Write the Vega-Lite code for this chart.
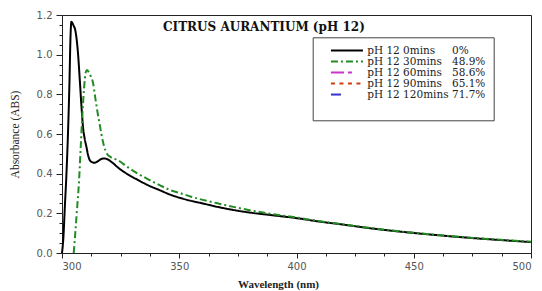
{
  "$schema": "https://vega.github.io/schema/vega-lite/v6.json",
  "width": 469,
  "height": 238,
  "autosize": {"type": "none"},
  "padding": {"left": 62, "top": 15, "right": 11, "bottom": 38},
  "background": "white",
  "title": {"text": "CITRUS AURANTIUM (pH 12)", "anchor": "start", "frame": "group", "offset": 0, "dx": 101, "dy": 33, "baseline": "alphabetic", "font": "DejaVu Serif", "fontSize": 12, "fontWeight": "bold", "color": "#111"},
  "config": {
    "view": {"stroke": "#222", "strokeWidth": 1},
    "axis": {"grid": false, "domainColor": "#222", "tickColor": "#222", "labelFont": "DejaVu Sans", "labelFontSize": 10, "labelColor": "#555", "titleFont": "Liberation Serif", "titleColor": "#222"}
  },
  "datasets": {
    "spectra": [
      {"series": "pH 12 0mins\u00a0\u00a0\u00a0\u00a0\u00a00%", "wavelength": 300.0, "absorbance": 0.0},
      {"series": "pH 12 0mins\u00a0\u00a0\u00a0\u00a0\u00a00%", "wavelength": 300.6, "absorbance": 0.08},
      {"series": "pH 12 0mins\u00a0\u00a0\u00a0\u00a0\u00a00%", "wavelength": 301.2, "absorbance": 0.23},
      {"series": "pH 12 0mins\u00a0\u00a0\u00a0\u00a0\u00a00%", "wavelength": 301.9, "absorbance": 0.40},
      {"series": "pH 12 0mins\u00a0\u00a0\u00a0\u00a0\u00a00%", "wavelength": 302.6, "absorbance": 0.62},
      {"series": "pH 12 0mins\u00a0\u00a0\u00a0\u00a0\u00a00%", "wavelength": 303.2, "absorbance": 0.87},
      {"series": "pH 12 0mins\u00a0\u00a0\u00a0\u00a0\u00a00%", "wavelength": 303.6, "absorbance": 1.08},
      {"series": "pH 12 0mins\u00a0\u00a0\u00a0\u00a0\u00a00%", "wavelength": 304.0, "absorbance": 1.166},
      {"series": "pH 12 0mins\u00a0\u00a0\u00a0\u00a0\u00a00%", "wavelength": 304.8, "absorbance": 1.15},
      {"series": "pH 12 0mins\u00a0\u00a0\u00a0\u00a0\u00a00%", "wavelength": 305.8, "absorbance": 1.115},
      {"series": "pH 12 0mins\u00a0\u00a0\u00a0\u00a0\u00a00%", "wavelength": 306.8, "absorbance": 1.01},
      {"series": "pH 12 0mins\u00a0\u00a0\u00a0\u00a0\u00a00%", "wavelength": 307.6, "absorbance": 0.87},
      {"series": "pH 12 0mins\u00a0\u00a0\u00a0\u00a0\u00a00%", "wavelength": 308.3, "absorbance": 0.74},
      {"series": "pH 12 0mins\u00a0\u00a0\u00a0\u00a0\u00a00%", "wavelength": 309.0, "absorbance": 0.63},
      {"series": "pH 12 0mins\u00a0\u00a0\u00a0\u00a0\u00a00%", "wavelength": 309.7, "absorbance": 0.575},
      {"series": "pH 12 0mins\u00a0\u00a0\u00a0\u00a0\u00a00%", "wavelength": 310.4, "absorbance": 0.536},
      {"series": "pH 12 0mins\u00a0\u00a0\u00a0\u00a0\u00a00%", "wavelength": 311.1, "absorbance": 0.495},
      {"series": "pH 12 0mins\u00a0\u00a0\u00a0\u00a0\u00a00%", "wavelength": 311.8, "absorbance": 0.469},
      {"series": "pH 12 0mins\u00a0\u00a0\u00a0\u00a0\u00a00%", "wavelength": 312.8, "absorbance": 0.458},
      {"series": "pH 12 0mins\u00a0\u00a0\u00a0\u00a0\u00a00%", "wavelength": 313.9, "absorbance": 0.455},
      {"series": "pH 12 0mins\u00a0\u00a0\u00a0\u00a0\u00a00%", "wavelength": 315.2, "absorbance": 0.462},
      {"series": "pH 12 0mins\u00a0\u00a0\u00a0\u00a0\u00a00%", "wavelength": 316.8, "absorbance": 0.474},
      {"series": "pH 12 0mins\u00a0\u00a0\u00a0\u00a0\u00a00%", "wavelength": 318.0, "absorbance": 0.477},
      {"series": "pH 12 0mins\u00a0\u00a0\u00a0\u00a0\u00a00%", "wavelength": 319.5, "absorbance": 0.472},
      {"series": "pH 12 0mins\u00a0\u00a0\u00a0\u00a0\u00a00%", "wavelength": 321.0, "absorbance": 0.46},
      {"series": "pH 12 0mins\u00a0\u00a0\u00a0\u00a0\u00a00%", "wavelength": 324.3, "absorbance": 0.427},
      {"series": "pH 12 0mins\u00a0\u00a0\u00a0\u00a0\u00a00%", "wavelength": 328.0, "absorbance": 0.397},
      {"series": "pH 12 0mins\u00a0\u00a0\u00a0\u00a0\u00a00%", "wavelength": 332.4, "absorbance": 0.368},
      {"series": "pH 12 0mins\u00a0\u00a0\u00a0\u00a0\u00a00%", "wavelength": 337.0, "absorbance": 0.34},
      {"series": "pH 12 0mins\u00a0\u00a0\u00a0\u00a0\u00a00%", "wavelength": 342.0, "absorbance": 0.315},
      {"series": "pH 12 0mins\u00a0\u00a0\u00a0\u00a0\u00a00%", "wavelength": 346.0, "absorbance": 0.295},
      {"series": "pH 12 0mins\u00a0\u00a0\u00a0\u00a0\u00a00%", "wavelength": 350.9, "absorbance": 0.276},
      {"series": "pH 12 0mins\u00a0\u00a0\u00a0\u00a0\u00a00%", "wavelength": 355.0, "absorbance": 0.263},
      {"series": "pH 12 0mins\u00a0\u00a0\u00a0\u00a0\u00a00%", "wavelength": 360.0, "absorbance": 0.25},
      {"series": "pH 12 0mins\u00a0\u00a0\u00a0\u00a0\u00a00%", "wavelength": 365.0, "absorbance": 0.236},
      {"series": "pH 12 0mins\u00a0\u00a0\u00a0\u00a0\u00a00%", "wavelength": 369.4, "absorbance": 0.225},
      {"series": "pH 12 0mins\u00a0\u00a0\u00a0\u00a0\u00a00%", "wavelength": 375.0, "absorbance": 0.213},
      {"series": "pH 12 0mins\u00a0\u00a0\u00a0\u00a0\u00a00%", "wavelength": 380.0, "absorbance": 0.204},
      {"series": "pH 12 0mins\u00a0\u00a0\u00a0\u00a0\u00a00%", "wavelength": 390.0, "absorbance": 0.19},
      {"series": "pH 12 0mins\u00a0\u00a0\u00a0\u00a0\u00a00%", "wavelength": 399.3, "absorbance": 0.177},
      {"series": "pH 12 0mins\u00a0\u00a0\u00a0\u00a0\u00a00%", "wavelength": 410.0, "absorbance": 0.158},
      {"series": "pH 12 0mins\u00a0\u00a0\u00a0\u00a0\u00a00%", "wavelength": 420.0, "absorbance": 0.143},
      {"series": "pH 12 0mins\u00a0\u00a0\u00a0\u00a0\u00a00%", "wavelength": 431.2, "absorbance": 0.125},
      {"series": "pH 12 0mins\u00a0\u00a0\u00a0\u00a0\u00a00%", "wavelength": 440.0, "absorbance": 0.113},
      {"series": "pH 12 0mins\u00a0\u00a0\u00a0\u00a0\u00a00%", "wavelength": 450.0, "absorbance": 0.101},
      {"series": "pH 12 0mins\u00a0\u00a0\u00a0\u00a0\u00a00%", "wavelength": 460.0, "absorbance": 0.09},
      {"series": "pH 12 0mins\u00a0\u00a0\u00a0\u00a0\u00a00%", "wavelength": 470.0, "absorbance": 0.08},
      {"series": "pH 12 0mins\u00a0\u00a0\u00a0\u00a0\u00a00%", "wavelength": 480.0, "absorbance": 0.071},
      {"series": "pH 12 0mins\u00a0\u00a0\u00a0\u00a0\u00a00%", "wavelength": 490.0, "absorbance": 0.063},
      {"series": "pH 12 0mins\u00a0\u00a0\u00a0\u00a0\u00a00%", "wavelength": 500.0, "absorbance": 0.055},
      {"series": "pH 12 30mins\u00a0\u00a0\u00a048.9%", "wavelength": 305.0, "absorbance": 0.0},
      {"series": "pH 12 30mins\u00a0\u00a0\u00a048.9%", "wavelength": 305.6, "absorbance": 0.09},
      {"series": "pH 12 30mins\u00a0\u00a0\u00a048.9%", "wavelength": 306.4, "absorbance": 0.22},
      {"series": "pH 12 30mins\u00a0\u00a0\u00a048.9%", "wavelength": 307.3, "absorbance": 0.37},
      {"series": "pH 12 30mins\u00a0\u00a0\u00a048.9%", "wavelength": 308.0, "absorbance": 0.54},
      {"series": "pH 12 30mins\u00a0\u00a0\u00a048.9%", "wavelength": 308.7, "absorbance": 0.70},
      {"series": "pH 12 30mins\u00a0\u00a0\u00a048.9%", "wavelength": 309.4, "absorbance": 0.83},
      {"series": "pH 12 30mins\u00a0\u00a0\u00a048.9%", "wavelength": 310.1, "absorbance": 0.91},
      {"series": "pH 12 30mins\u00a0\u00a0\u00a048.9%", "wavelength": 310.7, "absorbance": 0.923},
      {"series": "pH 12 30mins\u00a0\u00a0\u00a048.9%", "wavelength": 311.4, "absorbance": 0.912},
      {"series": "pH 12 30mins\u00a0\u00a0\u00a048.9%", "wavelength": 312.3, "absorbance": 0.89},
      {"series": "pH 12 30mins\u00a0\u00a0\u00a048.9%", "wavelength": 313.2, "absorbance": 0.86},
      {"series": "pH 12 30mins\u00a0\u00a0\u00a048.9%", "wavelength": 314.1, "absorbance": 0.79},
      {"series": "pH 12 30mins\u00a0\u00a0\u00a048.9%", "wavelength": 315.0, "absorbance": 0.72},
      {"series": "pH 12 30mins\u00a0\u00a0\u00a048.9%", "wavelength": 315.9, "absorbance": 0.66},
      {"series": "pH 12 30mins\u00a0\u00a0\u00a048.9%", "wavelength": 316.8, "absorbance": 0.60},
      {"series": "pH 12 30mins\u00a0\u00a0\u00a048.9%", "wavelength": 317.7, "absorbance": 0.55},
      {"series": "pH 12 30mins\u00a0\u00a0\u00a048.9%", "wavelength": 318.6, "absorbance": 0.515},
      {"series": "pH 12 30mins\u00a0\u00a0\u00a048.9%", "wavelength": 319.5, "absorbance": 0.495},
      {"series": "pH 12 30mins\u00a0\u00a0\u00a048.9%", "wavelength": 320.6, "absorbance": 0.485},
      {"series": "pH 12 30mins\u00a0\u00a0\u00a048.9%", "wavelength": 322.0, "absorbance": 0.477},
      {"series": "pH 12 30mins\u00a0\u00a0\u00a048.9%", "wavelength": 323.9, "absorbance": 0.467},
      {"series": "pH 12 30mins\u00a0\u00a0\u00a048.9%", "wavelength": 328.0, "absorbance": 0.433},
      {"series": "pH 12 30mins\u00a0\u00a0\u00a048.9%", "wavelength": 332.4, "absorbance": 0.40},
      {"series": "pH 12 30mins\u00a0\u00a0\u00a048.9%", "wavelength": 337.0, "absorbance": 0.37},
      {"series": "pH 12 30mins\u00a0\u00a0\u00a048.9%", "wavelength": 342.0, "absorbance": 0.34},
      {"series": "pH 12 30mins\u00a0\u00a0\u00a048.9%", "wavelength": 346.0, "absorbance": 0.318},
      {"series": "pH 12 30mins\u00a0\u00a0\u00a048.9%", "wavelength": 350.9, "absorbance": 0.30},
      {"series": "pH 12 30mins\u00a0\u00a0\u00a048.9%", "wavelength": 355.0, "absorbance": 0.284},
      {"series": "pH 12 30mins\u00a0\u00a0\u00a048.9%", "wavelength": 360.0, "absorbance": 0.268},
      {"series": "pH 12 30mins\u00a0\u00a0\u00a048.9%", "wavelength": 365.0, "absorbance": 0.254},
      {"series": "pH 12 30mins\u00a0\u00a0\u00a048.9%", "wavelength": 369.4, "absorbance": 0.242},
      {"series": "pH 12 30mins\u00a0\u00a0\u00a048.9%", "wavelength": 375.0, "absorbance": 0.228},
      {"series": "pH 12 30mins\u00a0\u00a0\u00a048.9%", "wavelength": 380.0, "absorbance": 0.216},
      {"series": "pH 12 30mins\u00a0\u00a0\u00a048.9%", "wavelength": 390.0, "absorbance": 0.196},
      {"series": "pH 12 30mins\u00a0\u00a0\u00a048.9%", "wavelength": 399.3, "absorbance": 0.18},
      {"series": "pH 12 30mins\u00a0\u00a0\u00a048.9%", "wavelength": 410.0, "absorbance": 0.16},
      {"series": "pH 12 30mins\u00a0\u00a0\u00a048.9%", "wavelength": 420.0, "absorbance": 0.144},
      {"series": "pH 12 30mins\u00a0\u00a0\u00a048.9%", "wavelength": 431.2, "absorbance": 0.127},
      {"series": "pH 12 30mins\u00a0\u00a0\u00a048.9%", "wavelength": 440.0, "absorbance": 0.114},
      {"series": "pH 12 30mins\u00a0\u00a0\u00a048.9%", "wavelength": 450.0, "absorbance": 0.102},
      {"series": "pH 12 30mins\u00a0\u00a0\u00a048.9%", "wavelength": 460.0, "absorbance": 0.091},
      {"series": "pH 12 30mins\u00a0\u00a0\u00a048.9%", "wavelength": 470.0, "absorbance": 0.081},
      {"series": "pH 12 30mins\u00a0\u00a0\u00a048.9%", "wavelength": 480.0, "absorbance": 0.072},
      {"series": "pH 12 30mins\u00a0\u00a0\u00a048.9%", "wavelength": 490.0, "absorbance": 0.064},
      {"series": "pH 12 30mins\u00a0\u00a0\u00a048.9%", "wavelength": 500.0, "absorbance": 0.057}
    ]
  },
  "layer": [
    {
      "data": {"name": "spectra"},
      "mark": {"type": "line", "strokeWidth": 2, "interpolate": "monotone"},
      "encoding": {
        "x": {"field": "wavelength", "type": "quantitative",
          "scale": {"domain": [300, 500], "nice": false, "zero": false},
          "axis": {"values": [300, 350, 400, 450, 500], "format": "d", "title": "Wavelength (nm)", "titleFontWeight": "bold", "titleFontSize": 11, "titleX": 216, "titlePadding": 7, "tickSize": 5, "labelPadding": 3}},
        "y": {"field": "absorbance", "type": "quantitative",
          "scale": {"domain": [0, 1.2], "nice": false},
          "axis": {"values": [0, 0.2, 0.4, 0.6, 0.8, 1.0, 1.2], "format": ".1f", "title": "Absorbance (ABS)", "titleFontWeight": "normal", "titleFontSize": 11.5, "titlePadding": 16, "tickSize": 6, "labelPadding": 4}},
        "color": {"field": "series", "type": "nominal",
          "scale": {
            "domain": ["pH 12 0mins\u00a0\u00a0\u00a0\u00a0\u00a00%", "pH 12 30mins\u00a0\u00a0\u00a048.9%", "pH 12 60mins\u00a0\u00a0\u00a058.6%", "pH 12 90mins\u00a0\u00a0\u00a065.1%", "pH 12 120mins\u00a071.7%"],
            "range": ["#000000", "#238b23", "#cc33cc", "#d23c14", "#3333cc"]},
          "legend": {"orient": "none", "legendX": 250.7, "legendY": 22.3, "title": "\u00a0", "titleOrient": "bottom", "titleFontSize": 10, "titlePadding": 2, "padding": 8, "strokeColor": "#444", "fillColor": "white", "symbolType": "M-4,0H4", "symbolSize": 64, "symbolStrokeWidth": 2, "labelFont": "DejaVu Serif", "labelFontSize": 10.5, "labelColor": "#222", "labelOffset": 15, "rowPadding": 0, "symbolOffset": 21, "labelLimit": 300}},
        "strokeDash": {"field": "series", "type": "nominal",
          "scale": {
            "domain": ["pH 12 0mins\u00a0\u00a0\u00a0\u00a0\u00a00%", "pH 12 30mins\u00a0\u00a0\u00a048.9%", "pH 12 60mins\u00a0\u00a0\u00a058.6%", "pH 12 90mins\u00a0\u00a0\u00a065.1%", "pH 12 120mins\u00a071.7%"],
            "range": [[1, 0], [7, 3, 2, 3], [13, 4, 4, 20], [4, 4.5], [10, 40]]},
          "legend": {"orient": "none", "legendX": 250.7, "legendY": 22.3, "title": "\u00a0", "titleOrient": "bottom", "titleFontSize": 10, "titlePadding": 2, "padding": 8, "strokeColor": "#444", "fillColor": "white", "symbolType": "M-4,0H4", "symbolSize": 64, "symbolStrokeWidth": 2, "labelFont": "DejaVu Serif", "labelFontSize": 10.5, "labelColor": "#222", "labelOffset": 15, "rowPadding": 0, "symbolOffset": 21, "labelLimit": 300}}
      }
    },
    {
      "data": {"name": "spectra"},
      "mark": {"type": "point", "opacity": 0},
      "encoding": {
        "x": {"field": "wavelength", "type": "quantitative",
          "scale": {"domain": [300, 500], "nice": false, "zero": false},
          "axis": {"orient": "bottom", "values": [312.5, 325, 337.5, 362.5, 375, 387.5, 412.5, 425, 437.5, 462.5, 475, 487.5], "labels": false, "domain": false, "tickSize": 3, "title": null}},
        "y": {"field": "absorbance", "type": "quantitative",
          "scale": {"domain": [0, 1.2], "nice": false},
          "axis": {"orient": "left", "values": [0.05, 0.1, 0.15, 0.25, 0.3, 0.35, 0.45, 0.5, 0.55, 0.65, 0.7, 0.75, 0.85, 0.9, 0.95, 1.05, 1.1, 1.15], "labels": false, "domain": false, "tickSize": 3, "title": null}}
      }
    }
  ],
  "resolve": {"axis": {"x": "independent", "y": "independent"}}
}
